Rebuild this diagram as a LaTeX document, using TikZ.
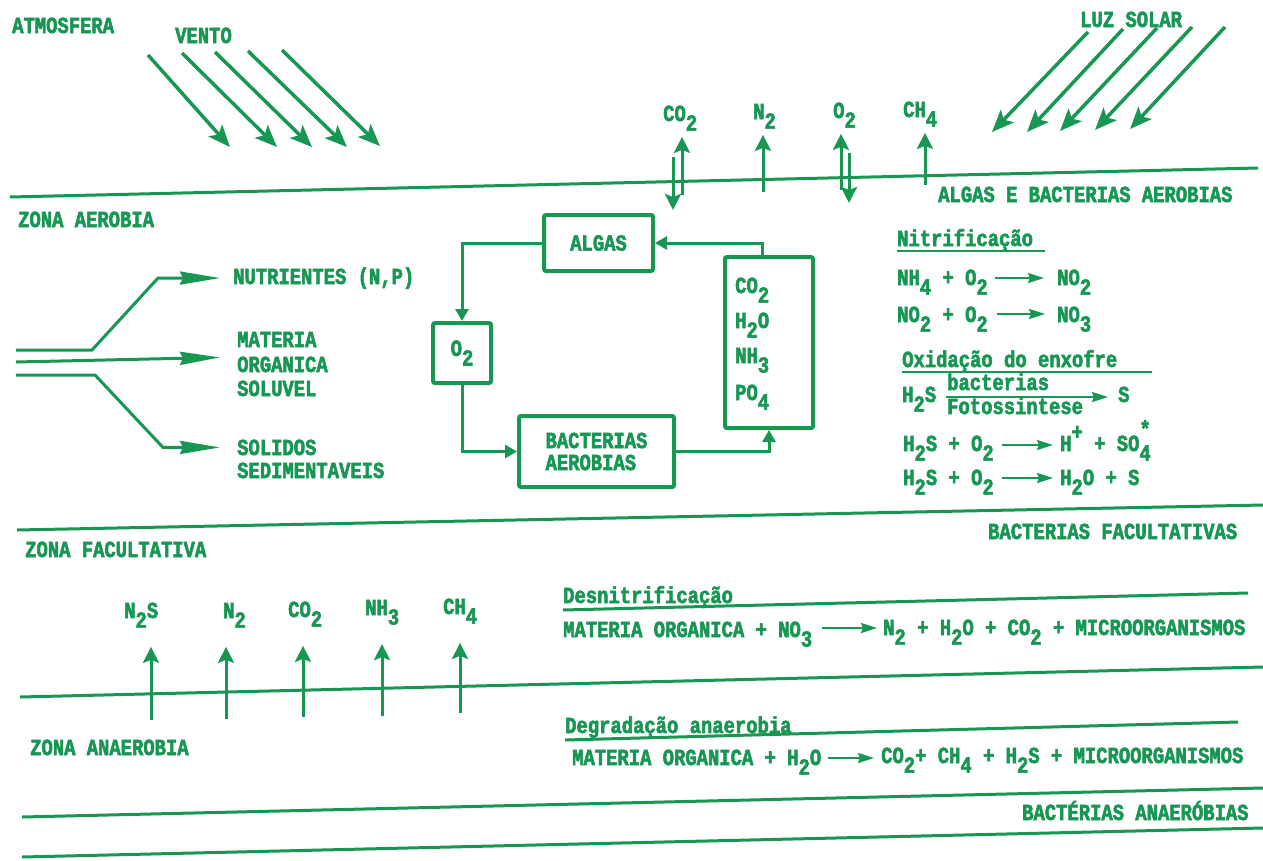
\documentclass[tikz,border=0pt]{standalone}
\usepackage{fontspec}
\usetikzlibrary{arrows.meta,calc}
\newfontfamily\tw{Liberation Mono}[UprightFont={* Bold}, FakeStretch=0.82, FakeBold=2.5]
\definecolor{grn}{RGB}{24,150,84}
\newcommand\fsz{\fontsize{23}{22}\selectfont}
\newcommand\sbs[1]{\raisebox{-0.42em}{#1}}
\newcommand\sps[1]{\raisebox{0.5em}{#1}}
\tikzset{
  lbl/.style={inner sep=0pt, text=grn, font=\tw\fsz, anchor=base west},
  zline/.style={draw=grn, line width=3pt},
  ul/.style={draw=grn, line width=2.5pt},
  boxn/.style={draw=grn, line width=4pt, rounded corners=2pt, inner sep=0pt, text=grn, font=\tw\fsz},
  gas/.style={draw=grn, line width=3pt, -{Stealth[length=16pt,width=16pt,inset=3pt]}},
  ray/.style={draw=grn, line width=3.5pt, -{Stealth[length=22pt,width=18pt,inset=5pt]}},
  conn/.style={draw=grn, line width=3pt, -{Triangle[length=12pt,width=13pt]}},
  flow/.style={draw=grn, line width=3pt, -{Stealth[length=40pt,width=13pt,inset=3pt]}},
  eqa/.style={draw=grn, line width=2.2pt, -{Stealth[length=16pt,width=10pt,inset=2pt]}},
}
\begin{document}
\begin{tikzpicture}[x=1pt,y=-1pt]
\fill[white] (0,0) rectangle (1263,860);
\useasboundingbox (0,0) rectangle (1263,860);

% zone lines
\draw[zline] (10,197) -- (1258,168);
\draw[zline] (17,530) -- (1263,505);
\draw[zline] (20,697) -- (1263,667);
\draw[zline] (22,817) -- (1263,788);
\draw[zline] (22,857) -- (1263,828);

% zone and header labels
\node[lbl] (atm) at (12,33) {ATMOSFERA};
\node[lbl] (vento) at (175,43) {VENTO};
\node[lbl] (luz) at (1080,27) {LUZ SOLAR};
\node[lbl] (zaer) at (18,227) {ZONA AEROBIA};
\node[lbl] (alb) at (938,202) {ALGAS E BACTERIAS AEROBIAS};
\node[lbl] (zfac) at (25,557) {ZONA FACULTATIVA};
\node[lbl] (bfac) at (988,539) {BACTERIAS FACULTATIVAS};
\node[lbl] (zana) at (30,755) {ZONA ANAEROBIA};
\node[lbl] (bana) at (1022,820) {BACTÉRIAS ANAERÓBIAS};

% wind and sunlight
\foreach \a/\b/\c/\d in {148/55/230/147, 182/53/277/147, 215/52/312/147, 248/51/347/147, 282/50/380/146}
  \draw[ray] (\a,\b) -- (\c,\d);
\foreach \a/\b/\c/\d in {1088/32/992/132, 1123/29/1027/132, 1157/28/1060/131, 1192/27/1095/130, 1225/27/1130/129}
  \draw[ray] (\a,\b) -- (\c,\d);

% top gases
\node[lbl] (co2t) at (663,121) {CO\sbs{2}};
\node[lbl] (n2t) at (753,119) {N\sbs{2}};
\node[lbl] (o2t) at (833,118) {O\sbs{2}};
\node[lbl] (ch4t) at (903,117) {CH\sbs{4}};
\coordinate (cu1) at (682,195);
\coordinate (cd1a) at (673,157);
\coordinate (cd1b) at (673,210);
\coordinate (cu2) at (763,192);
\coordinate (cu3) at (841,190);
\coordinate (cd3a) at (849,153);
\coordinate (cd3b) at (849,203);
\coordinate (cu4) at (925,185);
\draw[gas, shorten >=6pt] (cu1) -- (cu1 |- co2t.south);
\draw[gas] (cd1a) -- (cd1b);
\draw[gas, shorten >=6pt] (cu2) -- (cu2 |- n2t.south);
\draw[gas, shorten >=6pt] (cu3) -- (cu3 |- o2t.south);
\draw[gas] (cd3a) -- (cd3b);
\draw[gas, shorten >=6pt] (cu4) -- (cu4 |- ch4t.south);

% inflow
\node[lbl] (nutri) at (233,284) {NUTRIENTES (N,P)};
\node[lbl] (m1) at (237,347) {MATERIA};
\node[lbl] (m2) at (237,372) {ORGANICA};
\node[lbl] (m3) at (237,396) {SOLUVEL};
\node[lbl] (s1) at (237,455) {SOLIDOS};
\node[lbl] (s2) at (237,478) {SEDIMENTAVEIS};
\coordinate (f1) at (16,350);
\coordinate (f2) at (16,362);
\coordinate (f3) at (16,375);
\draw[flow] (f1) -- ++(76,0) -- ([xshift=-75pt]nutri.west) -- ([xshift=-13pt]nutri.west);
\draw[flow] (f2) -- ([xshift=-17pt,yshift=7pt]m2.west);
\draw[flow] (f3) -- ++(79,0) -- ([xshift=-74pt]s1.west) -- ([xshift=-17pt]s1.west);

% cycle boxes
\node[boxn, minimum width=109pt, minimum height=56pt] (algas) at (598.5,243) {ALGAS};
\node[boxn, minimum width=58pt, minimum height=60pt] (o2b) at (462,353) {O\sbs{2}};
\node[boxn, minimum width=155pt, minimum height=71pt, align=left] (bact) at (596.5,451.5) {BACTERIAS\\AEROBIAS};
\node[boxn, minimum width=88pt, minimum height=171pt] (nutb) at (769,342.5) {};
\node[lbl] (nb1) at (735,293) {CO\sbs{2}};
\node[lbl] (nb2) at (735,328) {H\sbs{2}O};
\node[lbl] (nb3) at (735,363) {NH\sbs{3}};
\node[lbl] (nb4) at (735,400) {PO\sbs{4}};
\draw[conn] (algas.west) -| (o2b.north);
\draw[conn] (o2b.south) |- (bact.west);
\draw[conn] (bact.east) -| (nutb.south);
\draw[conn] ([xshift=-7pt]nutb.north) |- (algas.east);

% nitrificacao
\node[lbl] (nit) at (897,246) {Nitrificação};
\draw[ul] ([yshift=-5pt]nit.base west) -- ++(148,0);
\node[lbl] (e1l) at (897,285) {NH\sbs{4} + O\sbs{2}};
\node[lbl] (e1r) at (1057,285) {NO\sbs{2}};
\draw[eqa] ([xshift=7pt,yshift=7pt]e1l.base east) -- ([xshift=-13pt,yshift=7pt]e1r.base west);
\node[lbl] (e2l) at (897,322) {NO\sbs{2} + O\sbs{2}};
\node[lbl] (e2r) at (1057,322) {NO\sbs{3}};
\draw[eqa] ([xshift=9pt,yshift=8pt]e2l.base east) -- ([xshift=-12pt,yshift=8pt]e2r.base west);

% oxidacao do enxofre
\node[lbl] (oxi) at (902,367) {Oxidação do enxofre};
\draw[ul] ([yshift=-5pt]oxi.base west) -- ++(250,0);
\node[lbl] (e3l) at (902,402) {H\sbs{2}S};
\node[lbl] (bac) at (947,390) {bacterias};
\node[lbl] (fot) at (947,414) {Fotossintese};
\node[lbl] (e3r) at (1118,402) {S};
\draw[eqa] ([xshift=10pt,yshift=5pt]e3l.base east) -- ([xshift=-10pt,yshift=5pt]e3r.base west);
\node[lbl] (e4l) at (903,451) {H\sbs{2}S + O\sbs{2}};
\node[lbl] (e4r) at (1060,451) {H\sps{+} + SO\rlap{\raisebox{0.62em}{*}}\sbs{4}};
\draw[eqa] ([xshift=8pt,yshift=6pt]e4l.base east) -- ([xshift=-7pt,yshift=6pt]e4r.base west);
\node[lbl] (e5l) at (903,485) {H\sbs{2}S + O\sbs{2}};
\node[lbl] (e5r) at (1060,485) {H\sbs{2}O + S};
\draw[eqa] ([xshift=8pt,yshift=7pt]e5l.base east) -- ([xshift=-7pt,yshift=7pt]e5r.base west);

% bottom gases
\node[lbl] (g1) at (124,618) {N\sbs{2}S};
\node[lbl] (g2) at (223,618) {N\sbs{2}};
\node[lbl] (g3) at (288,617) {CO\sbs{2}};
\node[lbl] (g4) at (365,615) {NH\sbs{3}};
\node[lbl] (g5) at (443,614) {CH\sbs{4}};
\coordinate (b1) at (151,720);
\coordinate (b2) at (226,719);
\coordinate (b3) at (303,717);
\coordinate (b4) at (382,716);
\coordinate (b5) at (460,713);
\draw[gas, shorten >=19pt] (b1) -- (b1 |- g1.south);
\draw[gas, shorten >=19pt] (b2) -- (b2 |- g2.south);
\draw[gas, shorten >=19pt] (b3) -- (b3 |- g3.south);
\draw[gas, shorten >=19pt] (b4) -- (b4 |- g4.south);
\draw[gas, shorten >=19pt] (b5) -- (b5 |- g5.south);

% desnitrificacao
\node[lbl] (des) at (563,603) {Desnitrificação};
\draw[zline] ([yshift=-7pt]des.base west) -- (1248,593);
\node[lbl] (e6l) at (563,637) {MATERIA ORGANICA + NO\sbs{3}};
\node[lbl] (e6r) at (883,635) {N\sbs{2} + H\sbs{2}O + CO\sbs{2} + MICROORGANISMOS};
\draw[eqa] ([xshift=10pt,yshift=9pt]e6l.base east) -- ([xshift=-6pt,yshift=7pt]e6r.base west);

% degradacao anaerobia
\node[lbl] (deg) at (565,733) {Degradação anaerobia};
\draw[zline] ([yshift=-7pt]deg.base west) -- (1238,722);
\node[lbl] (e7l) at (572,765) {MATERIA ORGANICA + H\sbs{2}O};
\node[lbl] (e7r) at (881,763) {CO\sbs{2}+ CH\sbs{4} + H\sbs{2}S + MICROORGANISMOS};
\draw[eqa] ([xshift=7pt,yshift=7pt]e7l.base east) -- ([xshift=-7pt,yshift=5pt]e7r.base west);
\end{tikzpicture}
\end{document}
